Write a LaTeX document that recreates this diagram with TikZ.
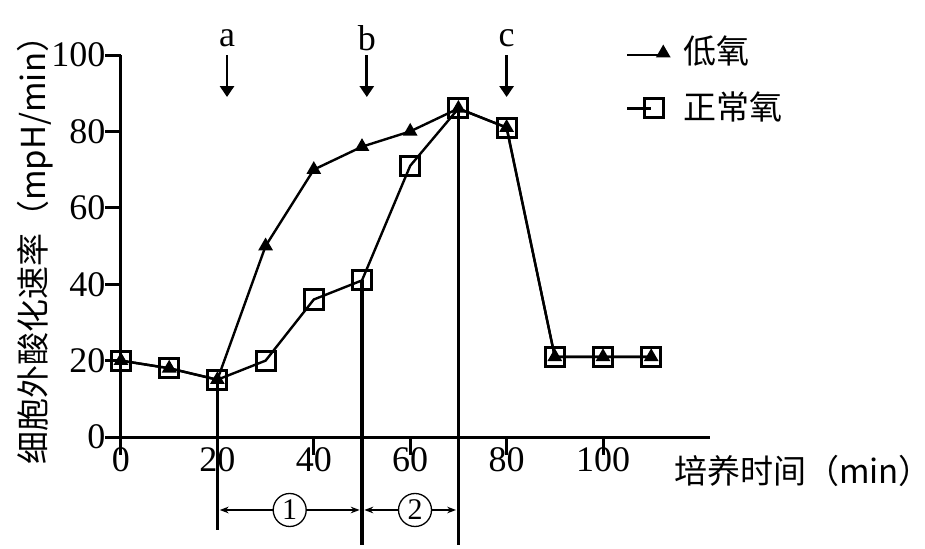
\documentclass[tikz,border=0pt]{standalone}
\usepackage{fontspec}
\setmainfont{Liberation Serif}
\newfontfamily\cjk{Noto Sans CJK SC}
\usetikzlibrary{arrows.meta, positioning, shapes.geometric}
\tikzset{>=Stealth,
  tri/.style={regular polygon, regular polygon sides=3, fill=black, inner sep=0pt, minimum size=17pt},
  sq/.style={draw=black, line width=3pt, inner sep=0pt, minimum size=19pt},
  bar/.style={line width=3.2pt},
  lbl/.style={font=\fontsize{36}{38}\selectfont},
  clbl/.style={font=\fontsize{33}{36}\selectfont\cjk},
  num/.style={lbl, draw, circle, inner sep=0pt, minimum size=33pt, line width=1.3pt, fill=white, font=\fontsize{30}{30}\selectfont}}
\begin{document}
\begin{tikzpicture}[x=4.82pt, y=3.82pt]
  \useasboundingbox (-25.1,-29.06) rectangle (166.8,114.4);
  % axes
  \draw [line width=3pt] (-3.3,0) -- (122.2,0);
  \draw [line width=3pt] (0,-4.7) -- (0,100);
  \foreach \v in {0,20,...,100} {
    \draw [line width=3pt] (-3.3,\v) -- (0,\v);
    \node [lbl, left, inner sep=1pt] at (-3,\v) {\v};
  }
  \foreach \t in {20,40,...,100} \draw [line width=3pt] (\t,0) -- (\t,-4.7);
  \foreach \t in {0,20,...,100} \node [lbl, below, inner sep=1pt] at (\t,-2.5) {\t};
  \node [clbl, rotate=90] (ylab) at (-17.8,51) {细胞外酸化速率（mpH/min）};
  \node [clbl] (xlab) at (141.5,-9) {培养时间（min）};
  % curves
  \draw [line width=2.4pt] plot coordinates {(0,20) (10,18) (20,15) (30,50) (40,70) (50,76) (60,80) (70,86) (80,81) (90,21) (100,21) (110,21)};
  \draw [line width=2.4pt] plot coordinates {(0,20) (10,18) (20,15) (30,20) (40,36) (50,41) (60,71) (70,86) (80,81) (90,21) (100,21) (110,21)};
  \foreach \t/\v in {0/20,10/18,20/15,30/50,40/70,50/76,60/80,70/86,80/81,90/21,100/21,110/21}
    \node [tri] at (\t,\v) {};
  \foreach \t/\v in {0/20,10/18,20/15,30/20,40/36,50/41,60/71,70/86,80/81,90/21,100/21,110/21}
    \node [sq] at (\t,\v) {};
  % time marks
  \draw [bar] (20,15) -- (20,-24.3);
  \draw [bar] (50,41) -- (50,-28.3);
  \draw [bar] (70,86) -- (70,-28.3);
  \node [num] (p1) at (35,-19.1) {1};
  \node [num] (p2) at (61,-19.1) {2};
  \draw [->, line width=1.3pt] (p1) -- (20.5,-19.1);
  \draw [->, line width=1.3pt] (p1) -- (49.5,-19.1);
  \draw [->, line width=1.3pt] (p2) -- (50.5,-19.1);
  \draw [->, line width=1.3pt] (p2) -- (69.5,-19.1);
  % treatments
  \foreach \t/\l in {22/a,51/b,80/c} {
    \node [lbl] (m\l) at (\t,104.5) {\l};
    \draw [-{Triangle[length=11pt,width=14pt]}, line width=2.8pt] (\t,100) -- (\t,89);
  }
  % legend
  \draw [line width=2.4pt] (105,100) -- (113,100);
  \node [tri] (k1) at (112.5,100.5) {};
  \draw [line width=2.4pt] (105,86) -- (110,86);
  \node [sq] (k2) at (110.5,86) {};
  \node [clbl, right] (t1) at (116,101) {低氧};
  \node [clbl, right] (t2) at (116,86.5) {正常氧};
\end{tikzpicture}
\end{document}
